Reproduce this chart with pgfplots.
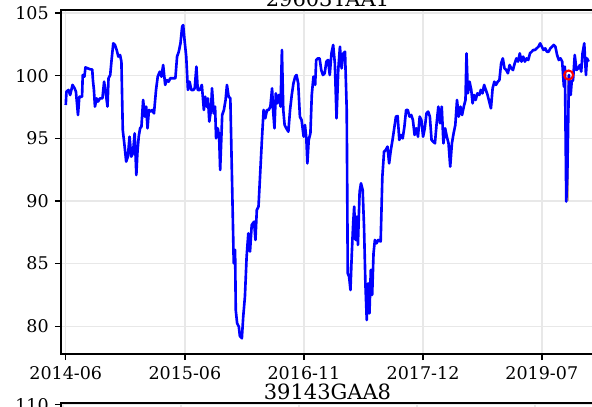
\documentclass[border=0pt]{standalone}
\usepackage{fontspec}
\setmainfont{DejaVu Serif}
\usepackage{pgfplots}
\pgfplotsset{compat=1.18}
\begin{document}
\begin{tikzpicture}
\useasboundingbox (0,0) rectangle (338.29pt,232.57pt);
\clip (0,0) rectangle (338.29pt,232.57pt);
\pgfplotsset{
  mystyle/.style={
    scale only axis, width=304.57pt, height=196.57pt,
    axis line style={line width=0.8pt},
    tick pos=left, tick align=outside,
    major tick length=3.5pt,
    major tick style={black,line width=0.8pt},
    grid=major, grid style={line width=0.8pt,color=black!9},
    /pgf/number format/assume math mode=true,
    every axis title shift=0pt,
    title style={at={(0.5,1)},anchor=base,yshift=2pt,font=\fontsize{12}{14}\selectfont},
  }
}
\begin{axis}[mystyle,
  at={(34.86pt,30.29pt)}, anchor=south west,
  xmin=2.95, xmax=1573.7, ymin=77.79, ymax=105.24,
  xtick={17,368,719,1070,1420},
  xticklabels={2014-06,2015-06,2016-11,2017-12,2019-07},
  ytick={80,85,90,95,100,105},
  title={29603TAA1},
]
\addplot[color={rgb,255:red,210;green,180;blue,140}, line width=1pt] coordinates {(1497,100.05) (1497,90)};
\addplot[blue, line width=1.5pt, line join=round] table[x=x,y=y] {
x y
17 97.66
19 98.72
25 98.86
30 98.46
37 99.26
43 98.99
47 98.72
53 96.86
57 98.32
65 98.32
67 100.05
72 99.92
75 100.66
82 100.58
90 100.50
95 100.50
97 99.65
100 98.86
103 97.53
108 98.19
112 97.93
118 98.19
125 98.19
130 99.52
135 98.59
140 97.53
143 99.79
148 100.05
152 101.25
157 102.58
162 102.45
167 102.05
172 101.52
177 101.65
181 101.12
185 95.66
190 94.47
195 93.14
200 93.54
205 95.13
210 93.54
215 93.80
220 95.40
225 92.07
228 93.80
232 95.13
236 95.80
240 95.93
245 98.06
250 96.73
254 97.53
258 95.80
262 97.26
268 97.13
272 97.26
277 96.99
283 98.86
288 99.92
294 100.32
299 99.92
304 100.85
310 99.26
315 99.65
320 99.52
325 99.79
340 99.79
345 101.52
350 101.91
355 102.58
360 103.91
363 104.04
367 102.85
372 101.52
377 98.86
382 99.52
387 98.86
393 98.86
397 98.99
402 100.72
406 98.86
412 98.86
418 99.26
424 97.26
428 98.32
432 97.53
436 98.19
440 96.33
445 97.26
448 98.99
453 96.99
457 97.53
460 95.00
465 95.80
469 95.13
472 92.47
478 96.86
483 97.26
488 98.06
492 99.26
497 98.32
502 98.19
508 90.35
512 85.03
516 86.10
518 81.28
522 80.24
527 79.97
530 79.23
536 79.04
540 80.77
545 82.37
550 85.56
555 87.42
560 85.96
565 88.09
572 88.35
576 86.89
580 89.28
585 89.55
590 92.21
595 94.87
600 97.26
605 96.60
610 97.26
615 97.26
620 97.53
625 98.99
628 97.26
632 95.80
636 98.59
640 97.79
645 98.46
650 97.53
654 102.05
658 97.26
662 96.06
667 95.80
673 95.53
678 97.26
683 98.46
688 99.39
693 99.92
697 100.05
702 99.39
707 96.73
712 96.46
718 95.13
722 96.06
726 95.00
729 93.00
733 94.87
738 95.40
742 98.46
747 99.92
752 99.26
755 101.25
760 101.38
765 101.38
770 100.45
775 100.05
780 100.19
785 101.12
790 101.25
795 100.05
800 101.78
805 102.45
810 100.98
815 96.60
820 100.45
825 102.31
830 100.58
835 101.78
840 101.91
845 97.26
848 84.23
852 83.96
856 82.90
860 85.82
864 88.22
867 89.55
871 86.89
875 88.75
878 86.49
883 90.74
887 91.41
892 90.88
896 87.95
900 83.43
904 80.50
908 83.43
912 81.03
916 84.50
920 82.50
924 85.82
928 86.89
933 86.62
938 86.89
945 86.76
950 91.94
955 93.94
960 94.07
965 94.34
970 93.00
975 94.07
980 94.87
985 95.80
990 96.73
995 96.78
1000 94.87
1005 95.27
1010 95.00
1015 95.93
1020 97.26
1025 97.26
1030 96.73
1035 96.86
1040 96.46
1045 95.27
1050 95.80
1055 95.13
1060 96.73
1065 96.46
1070 95.13
1075 95.80
1080 96.99
1085 97.13
1090 96.73
1095 94.87
1100 94.73
1105 94.60
1110 96.20
1115 97.53
1120 96.20
1125 97.53
1130 94.60
1135 95.80
1140 95.13
1145 94.60
1150 92.74
1155 94.60
1160 95.40
1165 96.06
1170 98.06
1175 96.73
1180 97.53
1185 96.86
1190 97.53
1195 98.06
1198 101.78
1202 98.59
1207 99.52
1212 98.86
1216 97.79
1220 98.46
1225 98.06
1230 98.59
1236 98.46
1240 98.86
1245 98.59
1250 99.26
1255 98.86
1260 98.46
1265 97.93
1270 97.39
1275 98.99
1280 99.52
1285 99.26
1290 99.52
1295 99.65
1300 100.98
1305 101.38
1310 100.58
1315 100.45
1320 100.19
1325 100.85
1330 100.58
1335 100.45
1340 100.98
1345 101.38
1350 101.12
1355 101.78
1360 101.12
1365 101.52
1370 101.12
1375 101.38
1380 101.25
1385 101.78
1390 101.91
1395 102.05
1400 102.05
1405 102.18
1410 102.31
1415 102.58
1420 102.31
1425 102.05
1430 102.18
1435 101.91
1440 101.91
1445 102.18
1450 102.31
1455 102.45
1460 102.31
1465 101.65
1470 101.25
1475 101.38
1480 101.12
1485 99.12
1488 100.72
1492 89.95
1495 91.94
1500 100.05
1505 98.46
1508 99.52
1512 99.65
1517 101.65
1522 100.45
1527 100.58
1532 100.85
1536 100.32
1540 101.78
1545 102.58
1550 100.05
1553 101.38
1558 101.12
};
\addplot[only marks, mark=o, mark size=2.6pt, red, mark options={line width=1.2pt}] coordinates {(1499,100.05)};
\end{axis}
\begin{axis}[mystyle,
  at={(34.86pt,2.286pt)}, anchor=north west,
  xmin=61, xmax=594, ymin=90, ymax=110.1,
  xtick={63,181,299,417,535}, xticklabels={},
  ytick={90,95,100,105,110},
  title={39143GAA8},
]
\end{axis}
\end{tikzpicture}
\end{document}
